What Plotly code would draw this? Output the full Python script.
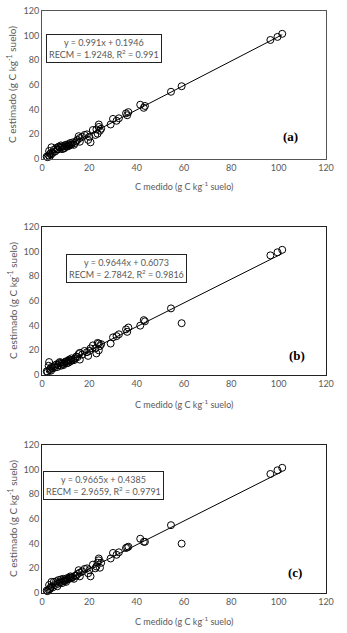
import plotly.graph_objects as go

# ---- data ----
measured = [2.0, 2.3, 2.8, 3.0, 3.2, 3.5, 3.8, 4.0, 4.5, 5.0, 5.5, 6.0, 6.5, 7.0, 7.5, 8.0, 8.5, 9.0,
            9.5, 10.0, 10.5, 11.0, 11.5, 12.0, 12.5, 13.0, 13.5, 14.0, 15.0, 15.5, 16.0, 16.0, 17.0,
            18.0, 19.0, 19.5, 20.0, 20.5, 21.5, 22.5, 23.0, 23.5, 24.0, 24.0, 24.5, 25.0, 29.0, 30.0,
            31.5, 32.5, 35.5, 36.0, 36.5, 41.5, 43.0, 43.5, 54.5, 59.0, 96.5, 99.5, 101.5,
            8.2, 9.2, 10.2, 11.2, 12.2, 6.8, 14.5]
est_a = [2.0, 1.5, 3.0, 6.5, 2.0, 4.5, 3.5, 9.5, 5.0, 7.5, 6.0, 9.0, 7.5, 10.0, 9.5, 11.0, 8.0, 10.5,
         9.0, 11.5, 10.0, 12.0, 11.0, 13.0, 12.0, 13.5, 11.5, 13.0, 15.5, 18.5, 14.0, 17.0, 18.0,
         19.5, 20.0, 15.5, 18.0, 13.5, 23.5, 19.5, 24.0, 20.5, 28.0, 26.0, 23.0, 24.5, 28.0, 32.5,
         31.0, 33.0, 37.0, 35.5, 38.0, 44.0, 41.5, 43.0, 54.5, 59.0, 96.5, 99.0, 101.5,
         9.5, 8.5, 10.5, 10.5, 11.5, 8.0, 14.5]
est_b = [3.0, 2.5, 7.5, 10.5, 4.0, 5.0, 3.5, 6.5, 5.5, 7.0, 6.0, 8.5, 6.5, 9.5, 10.5, 7.5, 9.0, 8.0,
         10.0, 11.0, 9.5, 11.5, 12.5, 11.0, 13.5, 12.5, 12.0, 13.5, 14.5, 17.0, 12.5, 18.0, 16.5,
         19.5, 18.5, 15.5, 19.5, 21.5, 24.0, 21.5, 17.5, 26.0, 25.5, 20.0, 23.5, 25.0, 25.5, 30.5,
         31.5, 33.0, 37.0, 35.0, 38.5, 40.0, 44.5, 43.5, 54.0, 42.0, 97.0, 99.5, 101.5,
         10.0, 9.0, 10.5, 10.0, 12.0, 8.0, 15.0]
est_c = [2.0, 1.5, 2.5, 6.5, 3.0, 4.0, 5.0, 9.0, 4.5, 9.0, 6.5, 9.5, 5.5, 10.5, 8.5, 11.0, 8.0, 11.5,
         9.5, 10.5, 12.0, 11.0, 12.5, 13.5, 12.0, 13.0, 11.5, 14.0, 15.5, 18.5, 13.5, 16.5, 17.5,
         19.5, 20.0, 16.0, 18.5, 13.5, 23.0, 20.0, 21.5, 24.5, 28.0, 26.5, 20.5, 24.5, 28.0, 32.5,
         31.0, 33.0, 36.5, 37.0, 37.5, 44.0, 41.5, 41.5, 55.0, 40.0, 96.5, 99.5, 101.5,
         9.0, 10.0, 9.0, 11.5, 12.5, 7.5, 14.0]

slopes = [0.991, 0.9644, 0.9665]
intercepts = [0.1946, 0.6073, 0.4385]
eq_texts = ["y = 0.991x + 0.1946<br>RECM = 1.9248, R<sup>2</sup> = 0.991",
            "y = 0.9644x + 0.6073<br>RECM = 2.7842, R<sup>2</sup> = 0.9816",
            "y = 0.9665x + 0.4385<br>RECM = 2.9659, R<sup>2</sup> = 0.9791"]
panel_labels = ["(a)", "(b)", "(c)"]
axis_ticks = [0, 20, 40, 60, 80, 100, 120]
x_title = "C medido (g C kg<sup>-1</sup> suelo)"
y_title = "C estimado (g C kg<sup>-1</sup> suelo)"

W, H = 347, 633
ydoms = [(11, 159), (227, 375), (445, 593)]  # pixel top/bottom
x0, x1 = 42, 326
eq_pos = [(104, 49), (126, 268), (103, 485)]
lab_pos = [(290, 136), (297, 355), (295, 572)]
xtitle_y = [186, 404, 621]

fig = go.Figure()
ests = [est_a, est_b, est_c]
gray = "#595959"
font_fam = "Lato, Open Sans, sans-serif"
for i in range(3):
    ax = "" if i == 0 else str(i + 1)
    fig.add_trace(go.Scatter(x=measured, y=ests[i], mode="markers",
                             marker=dict(symbol="circle-open", size=7, color="black", line=dict(width=1)),
                             xaxis="x" + ax, yaxis="y" + ax, showlegend=False, cliponaxis=False))
    lx = [min(measured), max(measured)]
    ly = [slopes[i] * v + intercepts[i] for v in lx]
    fig.add_trace(go.Scatter(x=lx, y=ly, mode="lines", line=dict(color="black", width=1),
                             xaxis="x" + ax, yaxis="y" + ax, showlegend=False))
    top, bot = ydoms[i]
    common = dict(range=[0, 120], tickvals=axis_ticks, showgrid=False, zeroline=False,
                  showline=True, mirror=True, linecolor="#222" if i else "#555", linewidth=1,
                  ticks="", automargin=False, tickfont=dict(size=9, color=gray, family=font_fam))
    fig.update_layout(**{
        "xaxis" + ax: dict(common, domain=[x0 / W, x1 / W], anchor="y" + ax),
        "yaxis" + ax: dict(common, domain=[1 - bot / H, 1 - top / H], anchor="x" + ax),
    })
    fig.add_annotation(x=eq_pos[i][0] / W, y=1 - eq_pos[i][1] / H, xref="paper", yref="paper",
                       xanchor="center", yanchor="middle",
                       text=eq_texts[i], showarrow=False, align="center",
                       font=dict(size=9, color=gray, family=font_fam),
                       bordercolor="#222", borderwidth=1, borderpad=2, bgcolor="white")
    fig.add_annotation(x=lab_pos[i][0] / W, y=1 - lab_pos[i][1] / H, xref="paper", yref="paper",
                       xanchor="center", yanchor="middle",
                       text="<b>" + panel_labels[i] + "</b>", showarrow=False,
                       font=dict(size=13, color="black", family="Liberation Serif, serif"))
    fig.add_annotation(x=(x0 + x1) / 2 / W, y=1 - xtitle_y[i] / H, xref="paper", yref="paper",
                       xanchor="center", yanchor="middle",
                       text=x_title, showarrow=False,
                       font=dict(size=9, color=gray, family=font_fam))
    fig.add_annotation(x=12 / W, y=1 - (top + bot) / 2 / H, xref="paper", yref="paper",
                       xanchor="center", yanchor="middle",
                       text=y_title, showarrow=False, textangle=-90,
                       font=dict(size=10, color=gray, family=font_fam))

fig.update_layout(width=W, height=H, margin=dict(l=0, r=0, t=0, b=0, autoexpand=False),
                  plot_bgcolor="white", paper_bgcolor="white")
fig.write_html("out.html", config={"displayModeBar": False},
               post_script="document.body.style.margin='0';document.body.style.overflow='hidden';")
